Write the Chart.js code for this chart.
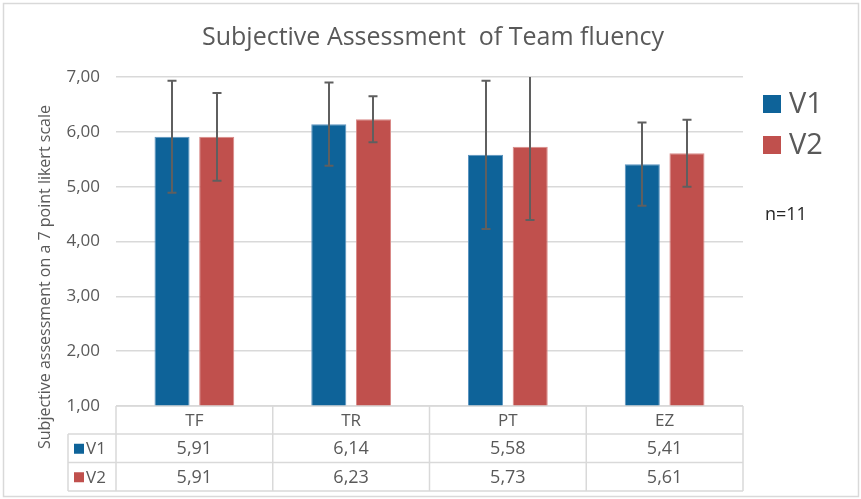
<!DOCTYPE html>
<html>
<head>
<meta charset="utf-8">
<script src="https://cdn.jsdelivr.net/npm/chart.js@4.4.1/dist/chart.umd.min.js"></script>
<style>
  html, body { margin: 0; padding: 0; background: #fff; }
  #wrap { position: relative; width: 861px; height: 499px; }
</style>
</head>
<body>
<div id="wrap"><canvas id="chart" width="861" height="499"></canvas></div>
<script>
// Team fluency ratings, means and standard deviations per condition
const categories = ['TF', 'TR', 'PT', 'EZ'];
const seriesNames = ['V1', 'V2'];
const v1Means = [5.91, 6.14, 5.58, 5.41];
const v2Means = [5.91, 6.23, 5.73, 5.61];
const v1Err = [1.02, 0.76, 1.35, 0.76];
const v2Err = [0.80, 0.42, 1.34, 0.61];
const yMin = 1, yMax = 7, yStep = 1;
const chartTitle = 'Subjective Assessment  of Team fluency';
const yTitle = 'Subjective assessment on a 7 point likert scale';
const sampleNote = 'n=11';

const seriesColors = ['#0e6399', '#c0504d'];
const edgeColors = ['#5b93bf', '#d98a88'];
const textGrey = '#595959';
const lineGrey = '#d9d9d9';
const FONT = '"Open Sans", sans-serif';

const fmt = v => v.toFixed(2).replace('.', ',');

// white background, outer frame, title and rotated y-axis title
const frame = {
  id: 'frame',
  beforeDraw(chart) {
    const { ctx, width, height } = chart;
    ctx.save();
    ctx.fillStyle = '#fff';
    ctx.fillRect(0, 0, width, height);
    ctx.strokeStyle = lineGrey;
    ctx.lineWidth = 1.5;
    ctx.strokeRect(3.5, 3.5, width - 6, height - 6);

    ctx.fillStyle = textGrey;
    ctx.textAlign = 'center';
    ctx.textBaseline = 'middle';
    ctx.font = `25px ${FONT}`;
    ctx.fillText(chartTitle, 433, 38);

    ctx.translate(45, 277);
    ctx.rotate(-Math.PI / 2);
    ctx.font = `16px ${FONT}`;
    ctx.fillText(yTitle, 0, 0);
    ctx.restore();
  }
};

// whiskers of +/- one standard deviation, clipped to the plot area
const errorBars = {
  id: 'errorBars',
  afterDatasetsDraw(chart) {
    const { ctx, chartArea, scales: { y } } = chart;
    ctx.save();
    ctx.strokeStyle = '#5f5f5f';
    ctx.lineWidth = 2;
    chart.data.datasets.forEach((ds, i) => {
      const meta = chart.getDatasetMeta(i);
      meta.data.forEach((bar, j) => {
        const v = ds.data[j], e = ds.errors[j];
        const hi = y.getPixelForValue(v + e);
        const lo = y.getPixelForValue(v - e);
        const top = Math.max(hi, chartArea.top);
        const x = Math.round(bar.x);
        ctx.beginPath();
        ctx.moveTo(x, top);
        ctx.lineTo(x, lo);
        if (hi >= chartArea.top) {
          ctx.moveTo(x - 4.5, hi);
          ctx.lineTo(x + 4.5, hi);
        }
        ctx.moveTo(x - 4.5, lo);
        ctx.lineTo(x + 4.5, lo);
        ctx.stroke();
      });
    });
    ctx.restore();
  }
};

// data table under the x axis plus the legend on the right
const dataTable = {
  id: 'dataTable',
  afterDraw(chart) {
    const { ctx, chartArea } = chart;
    const left = chartArea.left, right = chartArea.right;
    const colW = (right - left) / categories.length;
    const rowTop = chartArea.bottom;
    const rowH = [28, 28.5, 28.5];
    const rows = [rowTop, rowTop + rowH[0], rowTop + rowH[0] + rowH[1], rowTop + rowH[0] + rowH[1] + rowH[2]];
    const keyLeft = 68;

    ctx.save();
    ctx.strokeStyle = lineGrey;
    ctx.lineWidth = 1.5;
    ctx.beginPath();
    // horizontal rules
    ctx.moveTo(left, rows[0]); ctx.lineTo(right, rows[0]);
    for (let r = 1; r < rows.length; r++) {
      ctx.moveTo(keyLeft, rows[r]); ctx.lineTo(right, rows[r]);
    }
    // vertical rules
    for (let c = 0; c <= categories.length; c++) {
      const x = left + c * colW;
      ctx.moveTo(x, rows[0]); ctx.lineTo(x, rows[3]);
    }
    ctx.moveTo(keyLeft, rows[1]); ctx.lineTo(keyLeft, rows[3]);
    ctx.stroke();

    ctx.fillStyle = textGrey;
    ctx.textAlign = 'center';
    ctx.textBaseline = 'middle';
    ctx.font = `17px ${FONT}`;
    categories.forEach((c, i) => {
      ctx.fillText(c, left + (i + 0.5) * colW, (rows[0] + rows[1]) / 2 + 1);
    });
    const series = [v1Means, v2Means];
    series.forEach((vals, s) => {
      const cy = (rows[s + 1] + rows[s + 2]) / 2 + 1;
      ctx.font = `18px ${FONT}`;
      vals.forEach((v, i) => {
        ctx.fillStyle = textGrey;
        ctx.fillText(fmt(v), left + (i + 0.5) * colW, cy);
      });
      ctx.fillStyle = seriesColors[s];
      ctx.fillRect(74, cy - 5.5, 10, 10);
      ctx.fillStyle = textGrey;
      ctx.textAlign = 'left';
      ctx.font = `17px ${FONT}`;
      ctx.fillText(seriesNames[s], 86, cy);
      ctx.textAlign = 'center';
    });

    // legend
    ctx.textAlign = 'left';
    ctx.font = `29px ${FONT}`;
    seriesNames.forEach((name, s) => {
      const cy = 104 + s * 41;
      ctx.fillStyle = seriesColors[s];
      ctx.fillRect(763, cy - 9, 18, 18);
      ctx.fillStyle = textGrey;
      ctx.fillText(name, 789, cy + 1);
    });
    ctx.fillStyle = '#262626';
    ctx.font = `18px ${FONT}`;
    ctx.fillText(sampleNote, 765, 215);
    ctx.restore();
  }
};

new Chart(document.getElementById('chart'), {
  type: 'bar',
  data: {
    labels: categories,
    datasets: [
      { label: seriesNames[0], data: v1Means, errors: v1Err, backgroundColor: seriesColors[0], borderColor: edgeColors[0], borderWidth: 1 },
      { label: seriesNames[1], data: v2Means, errors: v2Err, backgroundColor: seriesColors[1], borderColor: edgeColors[1], borderWidth: 1 }
    ]
  },
  options: {
    responsive: false,
    animation: false,
    layout: { padding: { top: 77, right: 118, bottom: 93, left: 0 } },
    datasets: { bar: { categoryPercentage: 0.57, barPercentage: 0.785 } },
    plugins: {
      legend: { display: false },
      title: { display: false },
      tooltip: { enabled: false }
    },
    scales: {
      x: { display: false },
      y: {
        min: yMin,
        max: yMax,
        border: { display: false },
        grid: { color: lineGrey, lineWidth: 1.5, drawTicks: false },
        ticks: {
          stepSize: yStep,
          padding: 16,
          color: textGrey,
          font: { family: FONT, size: 17 },
          callback: v => fmt(v)
        },
        afterFit(scale) { scale.width = 116; }
      }
    }
  },
  plugins: [frame, errorBars, dataTable]
});
</script>
</body>
</html>
